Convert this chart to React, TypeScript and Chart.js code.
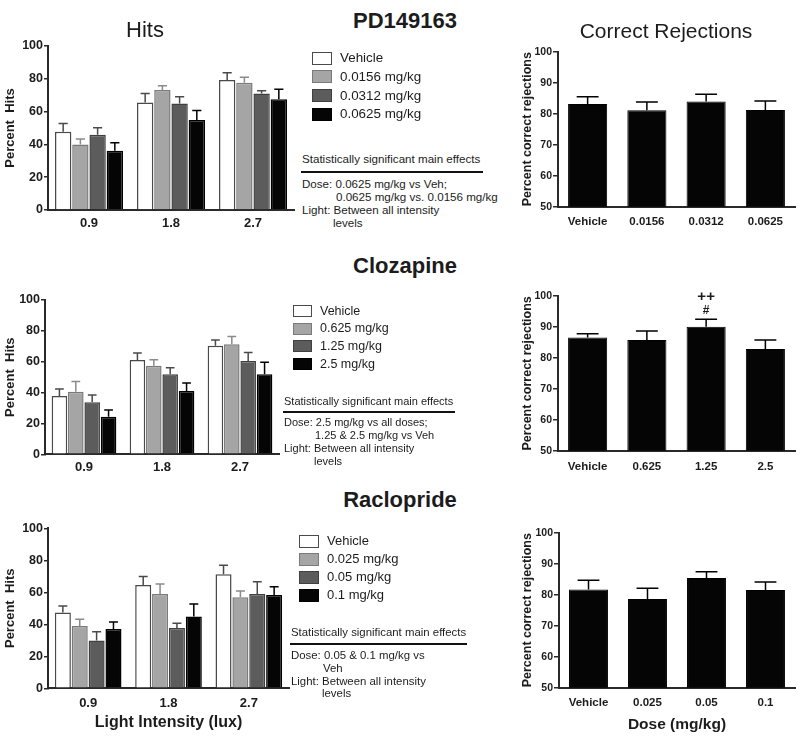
import React, { useEffect, useRef } from "react";
import { Chart, registerables } from "chart.js";

Chart.register(...registerables);

const FONT = "'Liberation Sans', Arial, Helvetica, sans-serif";

// ---------- data ----------
const lightLevels = ["0.9", "1.8", "2.7"];

// PD149163
const pdDoseLabels = ["Vehicle", "0.0156 mg/kg", "0.0312 mg/kg", "0.0625 mg/kg"];
const pdDoseTicks = ["Vehicle", "0.0156", "0.0312", "0.0625"];
const pdHitsVeh = [47.7, 65.6, 79.3];
const pdHitsVehErr = [5.1, 5.5, 4.4];
const pdHitsD1 = [40.0, 73.2, 77.6];
const pdHitsD1Err = [3.3, 2.6, 3.3];
const pdHitsD2 = [45.9, 65.0, 71.1];
const pdHitsD2Err = [4.3, 4.0, 1.6];
const pdHitsD3 = [36.2, 54.9, 67.5];
const pdHitsD3Err = [4.8, 5.7, 6.1];
const pdCr = [83.1, 81.1, 83.9, 81.2];
const pdCrErr = [2.4, 2.7, 2.4, 2.9];

// Clozapine
const clzDoseLabels = ["Vehicle", "0.625 mg/kg", "1.25 mg/kg", "2.5 mg/kg"];
const clzDoseTicks = ["Vehicle", "0.625", "1.25", "2.5"];
const clzHitsVeh = [37.8, 61.1, 70.4];
const clzHitsVehErr = [4.5, 4.6, 3.6];
const clzHitsD1 = [40.6, 57.4, 71.3];
const clzHitsD1Err = [6.5, 3.9, 5.0];
const clzHitsD2 = [33.7, 51.8, 60.5];
const clzHitsD2Err = [4.7, 4.3, 5.4];
const clzHitsD3 = [24.4, 41.0, 51.8];
const clzHitsD3Err = [4.3, 5.2, 7.8];
const clzCr = [86.6, 85.8, 90.1, 82.9];
const clzCrErr = [1.2, 2.9, 2.4, 2.9];
const clzCrMarkNear = ["", "", "#", ""];
const clzCrMarkFar = ["", "", "++", ""];

// Raclopride
const racDoseLabels = ["Vehicle", "0.025 mg/kg", "0.05 mg/kg", "0.1 mg/kg"];
const racDoseTicks = ["Vehicle", "0.025", "0.05", "0.1"];
const racHitsVeh = [47.3, 64.6, 71.3];
const racHitsVehErr = [4.1, 5.2, 5.6];
const racHitsD1 = [38.9, 58.9, 56.9];
const racHitsD1Err = [4.2, 6.3, 3.9];
const racHitsD2 = [29.8, 37.7, 58.9];
const racHitsD2Err = [5.6, 2.9, 7.7];
const racHitsD3 = [37.1, 44.8, 58.3];
const racHitsD3Err = [4.3, 7.9, 5.2];
const racCr = [81.7, 78.6, 85.4, 81.5];
const racCrErr = [3.0, 3.5, 2.0, 2.6];

// Text
const pdEffects = ["Dose: 0.0625 mg/kg vs Veh;", "0.0625 mg/kg vs. 0.0156 mg/kg", "Light: Between all intensity", "levels"];
const clzEffects = ["Dose: 2.5 mg/kg vs all doses;", "1.25 & 2.5 mg/kg vs Veh", "Light: Between all intensity", "levels"];
const racEffects = ["Dose: 0.05 & 0.1 mg/kg vs", "Veh", "Light: Between all intensity", "levels"];
const effectsTitle = "Statistically significant main effects";

// ---------- styles ----------
const barFills = ["#ffffff", "#a5a5a5", "#5c5c5c", "#050505"];
const barEdges = ["#4a4a4a", "#7a7a7a", "#404040", "#000000"];
const errColors = ["#4a4a4a", "#8a8a8a", "#4a4a4a", "#000000"];
const AXIS = "#2a2a2a";
const TXT = "#1c1c1c";

const errorBarPlugin = {
  id: "errbars",
  afterDatasetsDraw(chart: any) {
    const ctx = chart.ctx;
    const y = chart.scales.y;
    chart.data.datasets.forEach((ds: any, i: number) => {
      if (!ds.errors) return;
      const meta = chart.getDatasetMeta(i);
      meta.data.forEach((el: any, j: number) => {
        const top = y.getPixelForValue(ds.data[j] + ds.errors[j]);
        const cap = el.width * 0.28;
        ctx.save();
        ctx.strokeStyle = ds.errorColor;
        ctx.lineWidth = 1.5;
        ctx.beginPath();
        ctx.moveTo(el.x, el.y);
        ctx.lineTo(el.x, top);
        ctx.moveTo(el.x - cap, top);
        ctx.lineTo(el.x + cap, top);
        ctx.stroke();
        ctx.restore();
      });
    });
  },
};

const sigMarkPlugin = {
  id: "sigmarks",
  afterDatasetsDraw(chart: any) {
    const ctx = chart.ctx;
    const y = chart.scales.y;
    chart.data.datasets.forEach((ds: any, i: number) => {
      if (!ds.marksNear) return;
      const meta = chart.getDatasetMeta(i);
      meta.data.forEach((el: any, j: number) => {
        const top = y.getPixelForValue(ds.data[j] + ds.errors[j]);
        ctx.save();
        ctx.fillStyle = TXT;
        ctx.textAlign = "center";
        ctx.textBaseline = "middle";
        if (ds.marksNear[j]) {
          ctx.font = `bold 12px ${FONT}`;
          ctx.fillText(ds.marksNear[j], el.x, top - 9);
        }
        if (ds.marksFar && ds.marksFar[j]) {
          ctx.font = `bold 15px ${FONT}`;
          ctx.fillText(ds.marksFar[j], el.x, top - 22);
        }
        ctx.restore();
      });
    });
  },
};

function hitsDatasets(means: number[][], errs: number[][], names: string[]) {
  return means.map((m, k) => ({
    label: names[k],
    data: m,
    errors: errs[k],
    errorColor: errColors[k],
    backgroundColor: barFills[k],
    borderColor: barEdges[k],
    borderWidth: 1.5,
    categoryPercentage: 0.84,
    barPercentage: 0.95,
  }));
}

function crDataset(values: number[], errs: number[], near?: string[], far?: string[]) {
  return [
    {
      label: "Correct rejections",
      data: values,
      errors: errs,
      errorColor: "#000000",
      marksNear: near,
      marksFar: far,
      backgroundColor: "#050505",
      borderColor: "#000000",
      borderWidth: 1,
      categoryPercentage: 1,
      barPercentage: 0.66,
    },
  ];
}

function zeroPad(s: any) {
  s.paddingLeft = 0;
  s.paddingRight = 0;
  s.paddingTop = 0;
  s.paddingBottom = 0;
}

function buildConfig(p: any) {
  const { box, area } = p;
  const hits = p.kind === "hits";
  const xTickSize = hits ? 13 : 11.5;
  const xPad = p.xLabelY - area.y1 - (xTickSize * 1.2) / 2;
  const yTitleSize = hits ? 13 : 12.5;
  const yTitlePad = p.yTitleX - box.left - (yTitleSize * 1.2) / 2;
  const xTitle = p.xTitle
    ? {
        display: true,
        text: p.xTitle,
        color: TXT,
        font: { family: FONT, size: p.xTitleSize, weight: "bold" },
        padding: { top: 0, bottom: box.top + box.height - p.xTitleY - (p.xTitleSize * 1.2) / 2 },
      }
    : { display: false };
  return {
    type: "bar",
    data: { labels: p.labels, datasets: p.datasets },
    options: {
      responsive: false,
      animation: false,
      events: [],
      layout: {
        padding: { left: 0, top: area.y0 - box.top, right: box.left + box.width - area.x1, bottom: 0 },
      },
      plugins: { legend: { display: false }, tooltip: { enabled: false }, title: { display: false } },
      scales: {
        x: {
          offset: true,
          grid: { display: false, drawTicks: false },
          border: { display: true, color: AXIS, width: 2 },
          ticks: {
            color: TXT,
            font: { family: FONT, size: xTickSize, weight: "bold" },
            padding: xPad,
            maxRotation: 0,
            autoSkip: false,
          },
          title: xTitle,
          afterFit: (s: any) => {
            s.height = box.top + box.height - area.y1;
            zeroPad(s);
          },
        },
        y: {
          min: hits ? 0 : 50,
          max: 100,
          ticks: {
            stepSize: hits ? 20 : 10,
            color: TXT,
            font: { family: FONT, size: hits ? 12.5 : 10.5, weight: "bold" },
            padding: 1,
          },
          grid: {
            display: true,
            drawOnChartArea: false,
            drawTicks: true,
            tickLength: hits ? 4 : 5,
            color: AXIS,
            lineWidth: 1.5,
          },
          border: { display: true, color: AXIS, width: 2 },
          title: {
            display: true,
            text: hits ? "Percent  Hits" : "Percent correct rejections",
            color: TXT,
            font: { family: FONT, size: yTitleSize, weight: "bold" },
            padding: { top: yTitlePad, bottom: 0 },
          },
          afterFit: (s: any) => {
            s.width = area.x0 - box.left;
            zeroPad(s);
          },
        },
      },
    },
    plugins: [errorBarPlugin, sigMarkPlugin],
  };
}

const panels = [
  {
    kind: "hits",
    box: { left: 0, top: 34, width: 300, height: 204 },
    area: { x0: 48, x1: 294, y0: 46, y1: 210 },
    labels: lightLevels,
    datasets: hitsDatasets(
      [pdHitsVeh, pdHitsD1, pdHitsD2, pdHitsD3],
      [pdHitsVehErr, pdHitsD1Err, pdHitsD2Err, pdHitsD3Err],
      pdDoseLabels
    ),
    xLabelY: 223,
    yTitleX: 10,
  },
  {
    kind: "cr",
    box: { left: 500, top: 40, width: 300, height: 195 },
    area: { x0: 558, x1: 795, y0: 51.7, y1: 206.7 },
    labels: pdDoseTicks,
    datasets: crDataset(pdCr, pdCrErr),
    xLabelY: 221.7,
    yTitleX: 528,
  },
  {
    kind: "hits",
    box: { left: 0, top: 288, width: 300, height: 194 },
    area: { x0: 45, x1: 279, y0: 300, y1: 454.3 },
    labels: lightLevels,
    datasets: hitsDatasets(
      [clzHitsVeh, clzHitsD1, clzHitsD2, clzHitsD3],
      [clzHitsVehErr, clzHitsD1Err, clzHitsD2Err, clzHitsD3Err],
      clzDoseLabels
    ),
    xLabelY: 467.7,
    yTitleX: 10,
  },
  {
    kind: "cr",
    box: { left: 500, top: 284, width: 300, height: 195 },
    area: { x0: 558, x1: 795, y0: 296, y1: 450.7 },
    labels: clzDoseTicks,
    datasets: crDataset(clzCr, clzCrErr, clzCrMarkNear, clzCrMarkFar),
    xLabelY: 466.7,
    yTitleX: 528,
  },
  {
    kind: "hits",
    box: { left: 0, top: 516, width: 300, height: 225 },
    area: { x0: 48, x1: 289, y0: 528.3, y1: 688.3 },
    labels: lightLevels,
    datasets: hitsDatasets(
      [racHitsVeh, racHitsD1, racHitsD2, racHitsD3],
      [racHitsVehErr, racHitsD1Err, racHitsD2Err, racHitsD3Err],
      racDoseLabels
    ),
    xLabelY: 703,
    yTitleX: 10,
    xTitle: "Light Intensity (lux)",
    xTitleY: 723,
    xTitleSize: 16,
  },
  {
    kind: "cr",
    box: { left: 500, top: 520, width: 300, height: 221 },
    area: { x0: 559, x1: 795, y0: 532.7, y1: 687.7 },
    labels: racDoseTicks,
    datasets: crDataset(racCr, racCrErr),
    xLabelY: 702.7,
    yTitleX: 528,
    xTitle: "Dose (mg/kg)",
    xTitleY: 725,
    xTitleSize: 15.5,
  },
];

function ChartPanel({ spec }: any) {
  const ref = useRef<HTMLCanvasElement>(null);
  useEffect(() => {
    const chart = new Chart(ref.current as HTMLCanvasElement, buildConfig(spec) as any);
    return () => chart.destroy();
  }, [spec]);
  const { box } = spec;
  return (
    <canvas
      ref={ref}
      width={box.width}
      height={box.height}
      style={{ position: "absolute", left: box.left, top: box.top, width: box.width, height: box.height }}
    />
  );
}

function Txt({ x, y, size, bold, center, children }: any) {
  const lh = size * 1.2;
  const style: any = {
    position: "absolute",
    left: x,
    top: y - lh / 2,
    fontSize: size,
    lineHeight: lh + "px",
    fontWeight: bold ? 700 : 400,
    whiteSpace: "nowrap",
    color: TXT,
    fontFamily: FONT,
  };
  if (center) style.transform = "translateX(-50%)";
  return <div style={style}>{children}</div>;
}

function Legend({ names, boxX, textX, y0, step, size, bw, bh }: any) {
  return (
    <>
      {names.map((n: string, k: number) => (
        <React.Fragment key={k}>
          <div
            style={{
              position: "absolute",
              left: boxX,
              top: y0 + k * step - bh / 2,
              width: bw,
              height: bh,
              boxSizing: "border-box",
              background: barFills[k],
              border: `1.5px solid ${barEdges[k]}`,
            }}
          />
          <Txt x={textX} y={y0 + k * step} size={size}>
            {n}
          </Txt>
        </React.Fragment>
      ))}
    </>
  );
}

function Effects({ lines, x, indentX, titleY, ruleY, ruleX1, ys, size }: any) {
  return (
    <>
      <Txt x={x} y={titleY} size={size}>
        {effectsTitle}
      </Txt>
      <div
        style={{ position: "absolute", left: x - 1, top: ruleY - 1.3, width: ruleX1 - x + 1, height: 2.6, background: "#111" }}
      />
      {lines.map((t: string, k: number) => (
        <Txt key={k} x={k % 2 === 1 ? indentX[k === 1 ? 0 : 1] : x} y={ys[k]} size={size}>
          {t}
        </Txt>
      ))}
    </>
  );
}

export default function App() {
  return (
    <div
      style={{
        position: "absolute",
        left: 0,
        top: 0,
        width: 800,
        height: 741,
        background: "#ffffff",
        overflow: "hidden",
        fontFamily: FONT,
      }}
    >
      {panels.map((p, i) => (
        <ChartPanel key={i} spec={p} />
      ))}

      <Txt x={405} y={21} size={22} bold center>
        PD149163
      </Txt>
      <Txt x={145} y={30} size={22} center>
        Hits
      </Txt>
      <Txt x={666} y={31} size={21} center>
        Correct Rejections
      </Txt>
      <Txt x={405} y={266} size={22} bold center>
        Clozapine
      </Txt>
      <Txt x={400} y={500} size={22} bold center>
        Raclopride
      </Txt>

      <Legend names={pdDoseLabels} boxX={312} textX={340} y0={58} step={18.8} size={13.4} bw={20} bh={13} />
      <Legend names={clzDoseLabels} boxX={293} textX={320} y0={311} step={17.7} size={12.5} bw={19} bh={12} />
      <Legend names={racDoseLabels} boxX={299} textX={327} y0={541} step={18} size={13} bw={20} bh={13} />

      <Effects lines={pdEffects} x={302} indentX={[336, 333]} titleY={159} ruleY={172} ruleX1={483} ys={[184, 197, 210, 223]} size={11.6} />
      <Effects lines={clzEffects} x={284} indentX={[315, 314]} titleY={402} ruleY={412} ruleX1={455} ys={[423, 436, 449, 462]} size={11} />
      <Effects lines={racEffects} x={291} indentX={[323, 322]} titleY={633} ruleY={644} ruleX1={467} ys={[656, 669, 682, 694]} size={11.4} />
    </div>
  );
}
